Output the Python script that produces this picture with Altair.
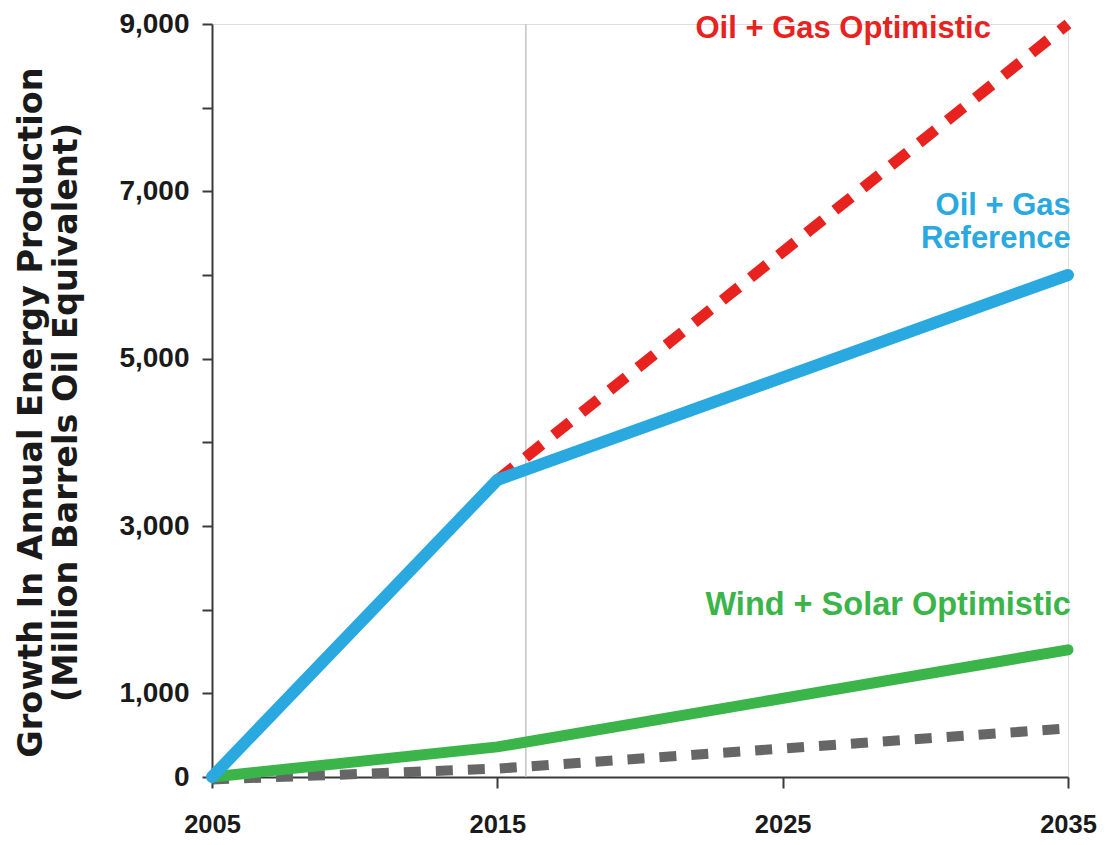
import altair as alt
import pandas as pd

# ---- data ----
oil_ref_years = [2005, 2015, 2035]
oil_ref_vals = [0, 3550, 6000]

oil_opt_years = [2015, 2035]
oil_opt_vals = [3550, 9000]

ws_opt_years = [2005, 2015, 2035]
ws_opt_vals = [0, 360, 1520]

ws_ref_years = [2005, 2015, 2025, 2035]
ws_ref_vals = [-30, 100, 340, 580]

divider_year = [2016]

x_ticks = [2005, 2015, 2025, 2035]
y_ticks = [0, 1000, 2000, 3000, 4000, 5000, 6000, 7000, 8000, 9000]

label_texts = ["Oil + Gas Optimistic", "Oil + Gas\nReference", "Wind + Solar Optimistic"]
label_years = [2032.3, 2035.1, 2035.1]
label_vals = [8940, 6830, 2050]
label_colors = ["#E8231F", "#29A9E0", "#3BB54A"]
label_sizes = [31, 31, 32.5]

# ---- style ----
BLUE = "#29A9E0"
RED = "#E8231F"
GREEN = "#3BB54A"
GRAY = "#666666"
AXIS = "#3a3a3a"
LABEL_FONT = "Liberation Sans"
ANNOT_FONT = "Liberation Sans"

W, H = 856, 753

xs = alt.Scale(domain=[2005, 2035], nice=False, zero=False)
ys = alt.Scale(domain=[0, 9000], nice=False, zero=False)

x_axis = alt.Axis(
    values=x_ticks, format="d", title=None, grid=False,
    domainColor=AXIS, domainWidth=2, tickColor=AXIS, tickWidth=2, tickSize=11,
    labelFont=LABEL_FONT, labelFontSize=25.5, labelFontWeight="bold", labelColor="#1a1a1a",
    labelPadding=24, labelBaseline="top", labelFlush=False,
)

y_axis = alt.Axis(
    values=y_ticks,
    labelExpr="(datum.value == 0 || datum.value % 2000 == 1000) ? format(datum.value, ',') : ''",
    grid=False,
    domainColor=AXIS, domainWidth=2, tickColor=AXIS, tickWidth=2, tickSize=10,
    labelFont=LABEL_FONT, labelFontSize=28, labelFontWeight="bold", labelColor="#1a1a1a",
    labelPadding=13, labelBaseline="middle",
    title=["Growth In Annual Energy Production", "(Million Barrels Oil Equivalent)"],
    titleFont="DejaVu Sans", titleFontSize=33.5, titleFontWeight="bold", titleColor="#1a1a1a",
    titleLineHeight=35, titleX=-181, titleY=388, titleAngle=-90,
    titleAlign="center", titleBaseline="middle",
)


def series(years, vals):
    return pd.DataFrame({"year": years, "value": vals})


base_axes = alt.Chart(series(ws_ref_years, ws_ref_vals)).mark_line(
    color=GRAY, strokeWidth=10, strokeDash=[17, 15], strokeCap="butt"
).encode(
    x=alt.X("year:Q", scale=xs, axis=x_axis),
    y=alt.Y("value:Q", scale=ys, axis=y_axis),
)

divider = alt.Chart(pd.DataFrame({"year": divider_year})).mark_rule(
    color="#c4c4c4", strokeWidth=1.5
).encode(x=alt.X("year:Q", scale=xs))

green = alt.Chart(series(ws_opt_years, ws_opt_vals)).mark_line(
    color=GREEN, strokeWidth=11, strokeCap="round", strokeJoin="round"
).encode(x=alt.X("year:Q", scale=xs), y=alt.Y("value:Q", scale=ys))

red = alt.Chart(series(oil_opt_years, oil_opt_vals)).mark_line(
    color=RED, strokeWidth=11, strokeDash=[21, 15], strokeCap="butt"
).encode(x=alt.X("year:Q", scale=xs), y=alt.Y("value:Q", scale=ys))

blue = alt.Chart(series(oil_ref_years, oil_ref_vals)).mark_line(
    color=BLUE, strokeWidth=12, strokeCap="round", strokeJoin="round"
).encode(x=alt.X("year:Q", scale=xs), y=alt.Y("value:Q", scale=ys))

labels = []
for t, yr, v, c, s in zip(label_texts, label_years, label_vals, label_colors, label_sizes):
    labels.append(
        alt.Chart(pd.DataFrame({"year": [yr], "value": [v], "txt": [t]})).mark_text(
            color=c, font=ANNOT_FONT, fontSize=s, fontWeight="bold",
            align="right", baseline="middle", lineBreak="\n", lineHeight=33,
        ).encode(
            x=alt.X("year:Q", scale=xs),
            y=alt.Y("value:Q", scale=ys),
            text="txt:N",
        )
    )

chart = alt.layer(divider, base_axes, green, red, blue, *labels).properties(
    width=W, height=H,
    autosize=alt.AutoSizeParams(type="none"),
    padding={"left": 204, "top": 16, "right": 29, "bottom": 60},
).configure_view(stroke=None).configure(background="white")

chart.save("out.html", embed_options={"renderer": "svg", "actions": False})
